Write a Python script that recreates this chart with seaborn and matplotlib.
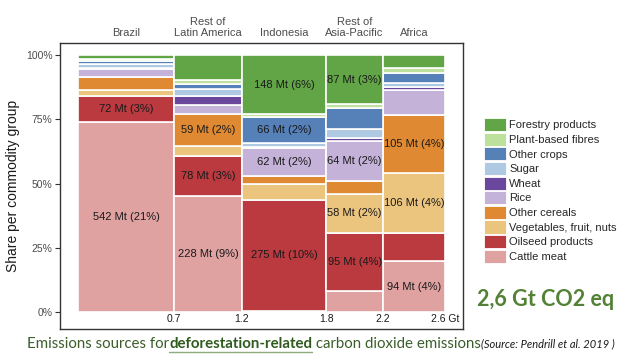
import numpy as np
import pandas as pd
import matplotlib
matplotlib.use("Agg")
import matplotlib.pyplot as plt
import seaborn as sns
from matplotlib.patches import Patch
from matplotlib.transforms import blended_transform_factory

# ---------- Data ----------
regions = ["Brazil", "Rest of\nLatin America", "Indonesia", "Rest of\nAsia-Pacific", "Africa"]
region_gt = [0.68, 0.48, 0.60, 0.40, 0.44]
edge_labels = ["0.7", "1.2", "1.8", "2.2", "2.6 Gt"]

commodities = ["Forestry products", "Plant-based fibres", "Other crops", "Sugar", "Wheat",
               "Rice", "Other cereals", "Vegetables, fruit, nuts", "Oilseed products", "Cattle meat"]
colors = ["#62a547", "#bde09c", "#5580b8", "#b0c9e3", "#6a479c",
          "#c4b2d9", "#df8a33", "#ebc47e", "#ba3a3f", "#e0a1a1"]

# share (%) of each region's emissions, order: Brazil, RLA, Indonesia, RAP, Africa
forestry = [1.4, 9.8, 23.0, 19.1, 4.9]
fibres = [1.0, 1.4, 1.0, 1.6, 1.9]
other_crops = [1.0, 2.1, 10.5, 8.2, 3.9]
sugar = [1.6, 2.6, 1.4, 3.5, 1.9]
wheat = [0.6, 3.5, 0.5, 1.0, 1.1]
rice = [2.9, 3.5, 10.8, 15.8, 9.7]
other_cereals = [5.1, 12.4, 3.0, 5.1, 22.4]
vegetables = [2.5, 3.9, 6.3, 15.0, 23.3]
oilseed = [9.9, 15.7, 43.6, 22.6, 11.1]
cattle = [73.9, 45.1, 0.3, 8.4, 19.8]

label_region = [0, 0, 1, 1, 1, 2, 2, 2, 2, 3, 3, 3, 3, 4, 4, 4]
label_commodity = ["Cattle meat", "Oilseed products",
                   "Cattle meat", "Oilseed products", "Other cereals",
                   "Oilseed products", "Rice", "Other crops", "Forestry products",
                   "Oilseed products", "Vegetables, fruit, nuts", "Rice", "Forestry products",
                   "Cattle meat", "Vegetables, fruit, nuts", "Other cereals"]
label_text = ["542 Mt (21%)", "72 Mt (3%)",
              "228 Mt (9%)", "78 Mt (3%)", "59 Mt (2%)",
              "275 Mt (10%)", "62 Mt (2%)", "66 Mt (2%)", "148 Mt (6%)",
              "95 Mt (4%)", "58 Mt (2%)", "64 Mt (2%)", "87 Mt (3%)",
              "94 Mt (4%)", "106 Mt (4%)", "105 Mt (4%)"]

shares = dict(zip(commodities, [forestry, fibres, other_crops, sugar, wheat, rice,
                                other_cereals, vegetables, oilseed, cattle]))

edges = [0.0] + list(np.cumsum(region_gt))
mids = [(a + b) / 2 for a, b in zip(edges[:-1], edges[1:])]

rows = []
for i, reg in enumerate(regions):
    for com in commodities:
        rows.append([reg, mids[i], com, shares[com][i]])
df = pd.DataFrame(rows, columns=["region", "x", "commodity", "share"])

# ---------- Plot ----------
sns.set_theme(style="white")
plt.rcParams["font.family"] = ["Liberation Sans", "DejaVu Sans"]

fig = plt.figure(figsize=(6.43, 3.61), dpi=100)
ax = fig.add_axes([60 / 643, 1 - 329 / 361, 403 / 643, 286 / 361])

sns.histplot(data=df, x="x", weights="share", hue="commodity", hue_order=commodities,
             palette=dict(zip(commodities, colors)), bins=[float(e) for e in edges],
             multiple="fill", stat="count", alpha=1, edgecolor="white", linewidth=1.2,
             legend=False, ax=ax)

ax.set_xlim(-0.128, 2.728)
ax.set_ylim(-0.066, 1.047)
ax.set_xticks([])
ax.set_yticks([0, 0.25, 0.5, 0.75, 1.0])
ax.set_yticklabels(["0%", "25%", "50%", "75%", "100%"], fontsize=7.5, color="#4d4d4d")
ax.tick_params(axis="y", direction="out", length=3.5, width=0.8, color="#333333", pad=2, left=True)
ax.set_xlabel("")
ax.set_ylabel("Share per commodity group", fontsize=10, color="#1a1a1a", labelpad=4)
for sp in ax.spines.values():
    sp.set_visible(True)
    sp.set_color("#333333")
    sp.set_linewidth(1.0)

# segment labels
bottom_order = commodities[::-1]
for r, com, txt in zip(label_region, label_commodity, label_text):
    col = np.array([shares[c][r] for c in bottom_order], dtype=float)
    col = col / col.sum()
    k = bottom_order.index(com)
    ymid = col[:k].sum() + col[k] / 2
    ax.text(mids[r], ymid, txt, ha="center", va="center", fontsize=8, color="#1a1a1a")

# region headers and width labels
trans = blended_transform_factory(ax.transData, ax.transAxes)
for m, reg in zip(mids, regions):
    ax.text(m, 1.018, reg, transform=trans, ha="center", va="bottom",
            fontsize=8, color="#4d4d4d", linespacing=1.05)
for e, lab in zip(edges[1:], edge_labels):
    ax.text(e, -0.028, lab, ha="center", va="center", fontsize=7.5, color="#1a1a1a")

# legend
handles = [Patch(facecolor=c, edgecolor="white", linewidth=0.6) for c in colors]
fig.legend(handles, commodities, loc="upper left", bbox_to_anchor=(484 / 643, 1 - 118 / 361),
           frameon=False, fontsize=8, handlelength=2.0, handleheight=1.45,
           labelspacing=0.13, handletextpad=0.25, borderpad=0, borderaxespad=0)

# outside texts
fig.text(546 / 643, 1 - 299 / 361, "2,6 Gt CO2 eq", ha="center", va="center",
         fontsize=15.5, fontweight="bold", color="#538135", family=["Lato", "DejaVu Sans"])

renderer = fig.canvas.get_renderer()
W = fig.bbox.width
y_cap = 1 - 344 / 361
x = 27 / 643
pieces = [("Emissions sources for", "normal", "normal", "#3b5e2b", 10.8),
          ("deforestation-related", "bold", "normal", "#2f5b1e", 10.8),
          (" carbon dioxide emissions", "normal", "normal", "#3b5e2b", 10.8),
          ("(Source: Pendrill et al. 2019 )", "normal", "italic", "#1a1a1a", 8.0)]
for txt, weight, style, colr, size in pieces:
    t = fig.text(x, y_cap, txt, ha="left", va="center", fontsize=size, fontweight=weight,
                 fontstyle=style, color=colr, family=["Lato", "DejaVu Sans"])
    bb = t.get_window_extent(renderer)
    if weight == "bold":
        fig.add_artist(plt.Line2D([bb.x0 / W, bb.x1 / W], [1 - 351.5 / 361] * 2,
                                  color="#8faa7c", linewidth=1.0))
    x = bb.x1 / W

fig.savefig("out.png", dpi=100)
